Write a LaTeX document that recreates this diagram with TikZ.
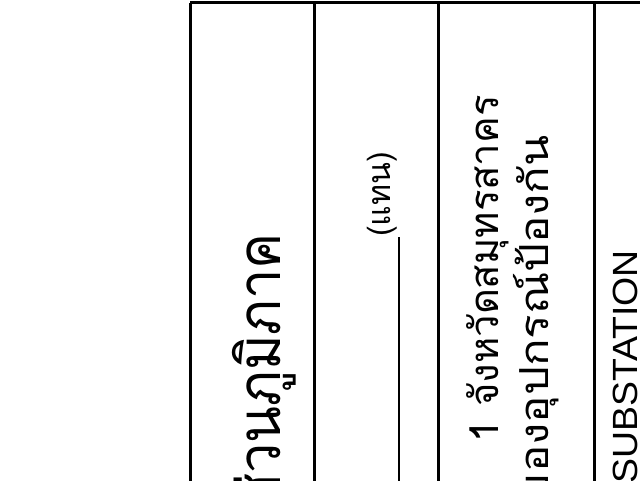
\documentclass[tikz,border=0pt]{standalone}
\usepackage{fontspec}
\setmainfont{Liberation Sans}
\newfontfamily\thaifont[Script=Thai]{Loma}
\begin{document}
\begin{tikzpicture}[x=1pt,y=-1pt,
  rule/.style={line width=3pt},
  thaitext/.style={rotate=90,inner sep=0pt,font=\thaifont\fontsize{#1}{#1}\selectfont},
  latintext/.style={rotate=90,inner sep=0pt,font=\fontsize{#1}{#1}\selectfont}]
\useasboundingbox (0,0) rectangle (640,480);
\clip (0,0) rectangle (640,480);

% table rules
\coordinate (top0) at (190,2.7);
\coordinate (top1) at (314.3,2.7);
\coordinate (top2) at (438.7,2.7);
\coordinate (top3) at (594.3,2.7);
\coordinate (topR) at (645,2.7);
\coordinate (bot0) at (190,485);
\coordinate (bot1) at (314.3,485);
\coordinate (bot2) at (438.7,485);
\coordinate (bot3) at (594.3,485);

\draw[rule] (top0) -- (topR);
\foreach \i in {0,...,3}
  \draw[rule] (top\i) -- (bot\i);

% texts
\node[thaitext=60, xscale=0.9, anchor=base east] (region) at (280,233) {ส่วนภูมิภาค};

\node[thaitext=32, anchor=base west] (deputy) at (390,237) {(แทน)};
\coordinate (signend) at (399,485);
\draw[line width=2pt] (signend) -- (deputy.base west -| signend);

\node[thaitext=40, anchor=base east] (province) at (498,95) {1 จังหวัดสมุทรสาคร};
\node[thaitext=40, xscale=1.14, anchor=base east] (device) at (548,135) {ของอุปกรณ์ป้องกัน};

\node[latintext=35, xscale=1.07, anchor=base west] (substation) at (637,484) {SUBSTATION};
\end{tikzpicture}
\end{document}
